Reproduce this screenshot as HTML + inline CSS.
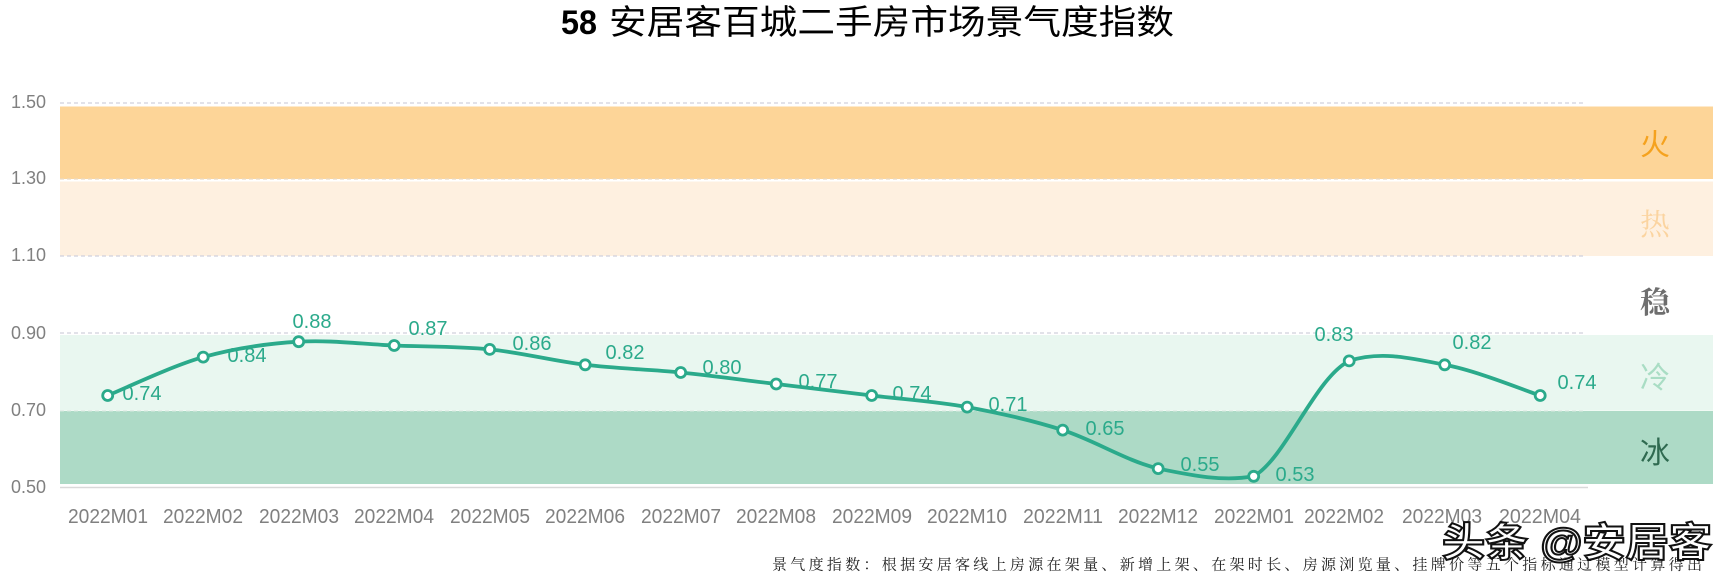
<!DOCTYPE html>
<html>
<head>
<meta charset="utf-8">
<style>
html,body{margin:0;padding:0;background:#fff;}
svg{display:block;}
</style>
</head>
<body>
<svg width="1732" height="586" viewBox="0 0 1732 586" xmlns="http://www.w3.org/2000/svg">
  <rect x="0" y="0" width="1732" height="586" fill="#ffffff"/>

  <!-- Title -->
  <text x="561" y="23" font-family="Liberation Sans, sans-serif" font-weight="bold" font-size="34" fill="#000" dominant-baseline="central" textLength="36" lengthAdjust="spacingAndGlyphs">58</text>
  <text x="609" y="23" font-family="Liberation Sans, 'Noto Sans CJK SC', sans-serif" font-weight="normal" font-size="34" fill="#000" dominant-baseline="central" textLength="565" lengthAdjust="spacingAndGlyphs">安居客百城二手房市场景气度指数</text>

  <!-- Bands -->
  <rect x="60" y="106.5" width="1653" height="72.5" fill="#FDD598"/>
  <rect x="60" y="181.5" width="1653" height="74.5" fill="#FEF0E0"/>
  <rect x="60" y="335" width="1653" height="75.7" fill="#E9F7F0"/>
  <rect x="60" y="411" width="1653" height="73" fill="#ADDAC6"/>

  <!-- Gridlines -->
  <g stroke="#D0D0DC" stroke-width="1.3" stroke-dasharray="4,3" fill="none">
    <line x1="60" y1="103" x2="1586" y2="103"/>
    <line x1="60" y1="179" x2="1586" y2="179" stroke="#EAD9C4"/>
    <line x1="60" y1="256" x2="1586" y2="256"/>
    <line x1="60" y1="333" x2="1586" y2="333"/>
    <line x1="60" y1="410.7" x2="1586" y2="410.7" stroke="#E4EFE9"/>
  </g>
  <!-- x axis -->
  <line x1="60" y1="487.5" x2="1588" y2="487.5" stroke="#D9D9D9" stroke-width="1.5"/>

  <!-- Y labels -->
  <g font-family="Liberation Sans, sans-serif" font-size="18" fill="#808080" text-anchor="end" dominant-baseline="central">
    <text x="46" y="102">1.50</text>
    <text x="46" y="178">1.30</text>
    <text x="46" y="255">1.10</text>
    <text x="46" y="333">0.90</text>
    <text x="46" y="410">0.70</text>
    <text x="46" y="487">0.50</text>
  </g>

  <!-- X labels -->
  <g font-family="Liberation Sans, sans-serif" font-size="20" fill="#808080" text-anchor="middle" dominant-baseline="central">
    <text x="108" y="517" textLength="80" lengthAdjust="spacingAndGlyphs">2022M01</text>
    <text x="203" y="517" textLength="80" lengthAdjust="spacingAndGlyphs">2022M02</text>
    <text x="299" y="517" textLength="80" lengthAdjust="spacingAndGlyphs">2022M03</text>
    <text x="394" y="517" textLength="80" lengthAdjust="spacingAndGlyphs">2022M04</text>
    <text x="490" y="517" textLength="80" lengthAdjust="spacingAndGlyphs">2022M05</text>
    <text x="585" y="517" textLength="80" lengthAdjust="spacingAndGlyphs">2022M06</text>
    <text x="681" y="517" textLength="80" lengthAdjust="spacingAndGlyphs">2022M07</text>
    <text x="776" y="517" textLength="80" lengthAdjust="spacingAndGlyphs">2022M08</text>
    <text x="872" y="517" textLength="80" lengthAdjust="spacingAndGlyphs">2022M09</text>
    <text x="967" y="517" textLength="80" lengthAdjust="spacingAndGlyphs">2022M10</text>
    <text x="1063" y="517" textLength="80" lengthAdjust="spacingAndGlyphs">2022M11</text>
    <text x="1158" y="517" textLength="80" lengthAdjust="spacingAndGlyphs">2022M12</text>
    <text x="1254" y="517" textLength="80" lengthAdjust="spacingAndGlyphs">2022M01</text>
    <text x="1344" y="517" textLength="80" lengthAdjust="spacingAndGlyphs">2022M02</text>
    <text x="1442" y="517" textLength="80" lengthAdjust="spacingAndGlyphs">2022M03</text>
    <text x="1540" y="517" textLength="82" lengthAdjust="spacingAndGlyphs">2022M04</text>
  </g>

  <!-- Right side labels -->
  <g font-size="30" text-anchor="middle" dominant-baseline="central">
    <text x="1655" y="142" font-family="'Noto Sans CJK SC', sans-serif" fill="#F5A21E">火</text>
    <text x="1655" y="222" font-family="'Noto Serif CJK SC', serif" fill="#FBD4A0">热</text>
    <text x="1655" y="300" font-family="'Noto Serif CJK SC', serif" font-weight="bold" fill="#6E6E6E">稳</text>
    <text x="1655" y="375" font-family="'Noto Sans CJK SC', sans-serif" fill="#A9DDC4">冷</text>
    <text x="1655" y="450" font-family="'Noto Sans CJK SC', sans-serif" fill="#2F6A50">冰</text>
  </g>

  <!-- Series line -->
  <path fill="none" stroke="#2BAA8B" stroke-width="3.8" stroke-linecap="round" stroke-linejoin="round"
    d="M107.7,395.5
       C123.6,389.1 171.4,366.1 203.2,357.1
       C235.0,348.1 266.9,343.6 298.7,341.7
       C330.5,339.8 362.4,344.2 394.2,345.5
       C426.0,346.8 457.9,346.2 489.7,349.4
       C521.5,352.6 553.4,361.0 585.2,364.8
       C617.0,368.7 648.9,369.3 680.7,372.5
       C712.5,375.7 744.4,380.2 776.2,384.0
       C808.0,387.8 839.9,391.7 871.7,395.5
       C903.5,399.4 935.4,401.3 967.2,407.1
       C999.0,412.9 1030.9,419.9 1062.7,430.1
       C1094.5,440.4 1126.4,460.9 1158.2,468.6
       C1190.0,475.0 1221.9,482.0 1253.7,476.3
       C1285.5,458.4 1315.4,377.5 1349.2,360.9
       C1381.0,350.5 1412.9,358.5 1444.7,364.8
       C1476.5,370.6 1524.3,390.4 1540.2,395.5"/>

  <!-- Markers -->
  <g fill="#ffffff" stroke="#2BAA8B" stroke-width="2.8">
    <circle cx="107.7" cy="395.5" r="5"/>
    <circle cx="203.2" cy="357.1" r="5"/>
    <circle cx="298.7" cy="341.7" r="5"/>
    <circle cx="394.2" cy="345.5" r="5"/>
    <circle cx="489.7" cy="349.4" r="5"/>
    <circle cx="585.2" cy="364.8" r="5"/>
    <circle cx="680.7" cy="372.5" r="5"/>
    <circle cx="776.2" cy="384.0" r="5"/>
    <circle cx="871.7" cy="395.5" r="5"/>
    <circle cx="967.2" cy="407.1" r="5"/>
    <circle cx="1062.7" cy="430.1" r="5"/>
    <circle cx="1158.2" cy="468.6" r="5"/>
    <circle cx="1253.7" cy="476.3" r="5"/>
    <circle cx="1349.2" cy="360.9" r="5"/>
    <circle cx="1444.7" cy="364.8" r="5"/>
    <circle cx="1540.2" cy="395.5" r="5"/>
  </g>

  <!-- Data labels -->
  <g font-family="Liberation Sans, sans-serif" font-size="20" fill="#2BAA8B" text-anchor="middle" dominant-baseline="central">
    <text x="142" y="394" textLength="39" lengthAdjust="spacingAndGlyphs">0.74</text>
    <text x="247" y="356" textLength="39" lengthAdjust="spacingAndGlyphs">0.84</text>
    <text x="312" y="322" textLength="39" lengthAdjust="spacingAndGlyphs">0.88</text>
    <text x="428" y="329" textLength="39" lengthAdjust="spacingAndGlyphs">0.87</text>
    <text x="532" y="344" textLength="39" lengthAdjust="spacingAndGlyphs">0.86</text>
    <text x="625" y="353" textLength="39" lengthAdjust="spacingAndGlyphs">0.82</text>
    <text x="722" y="368" textLength="39" lengthAdjust="spacingAndGlyphs">0.80</text>
    <text x="818" y="382" textLength="39" lengthAdjust="spacingAndGlyphs">0.77</text>
    <text x="912" y="394" textLength="39" lengthAdjust="spacingAndGlyphs">0.74</text>
    <text x="1008" y="405" textLength="39" lengthAdjust="spacingAndGlyphs">0.71</text>
    <text x="1105" y="429" textLength="39" lengthAdjust="spacingAndGlyphs">0.65</text>
    <text x="1200" y="465" textLength="39" lengthAdjust="spacingAndGlyphs">0.55</text>
    <text x="1295" y="475" textLength="39" lengthAdjust="spacingAndGlyphs">0.53</text>
    <text x="1334" y="335" textLength="39" lengthAdjust="spacingAndGlyphs">0.83</text>
    <text x="1472" y="343" textLength="39" lengthAdjust="spacingAndGlyphs">0.82</text>
    <text x="1577" y="383" textLength="39" lengthAdjust="spacingAndGlyphs">0.74</text>
  </g>

  <!-- Footnote -->
  <text x="772" y="564" font-family="'Noto Serif CJK SC', serif" font-size="15" fill="#222" dominant-baseline="central" textLength="930" lengthAdjust="spacing">景气度指数：根据安居客线上房源在架量、新增上架、在架时长、房源浏览量、挂牌价等五个指标通过模型计算得出</text>

  <!-- Watermark -->
  <text x="1442" y="543" font-family="Liberation Sans, 'Noto Sans CJK SC', sans-serif" font-size="40" font-weight="bold" fill="#ffffff" stroke="#111" stroke-width="2" dominant-baseline="central" textLength="270" lengthAdjust="spacingAndGlyphs">头条 @安居客</text>
</svg>
</body>
</html>
